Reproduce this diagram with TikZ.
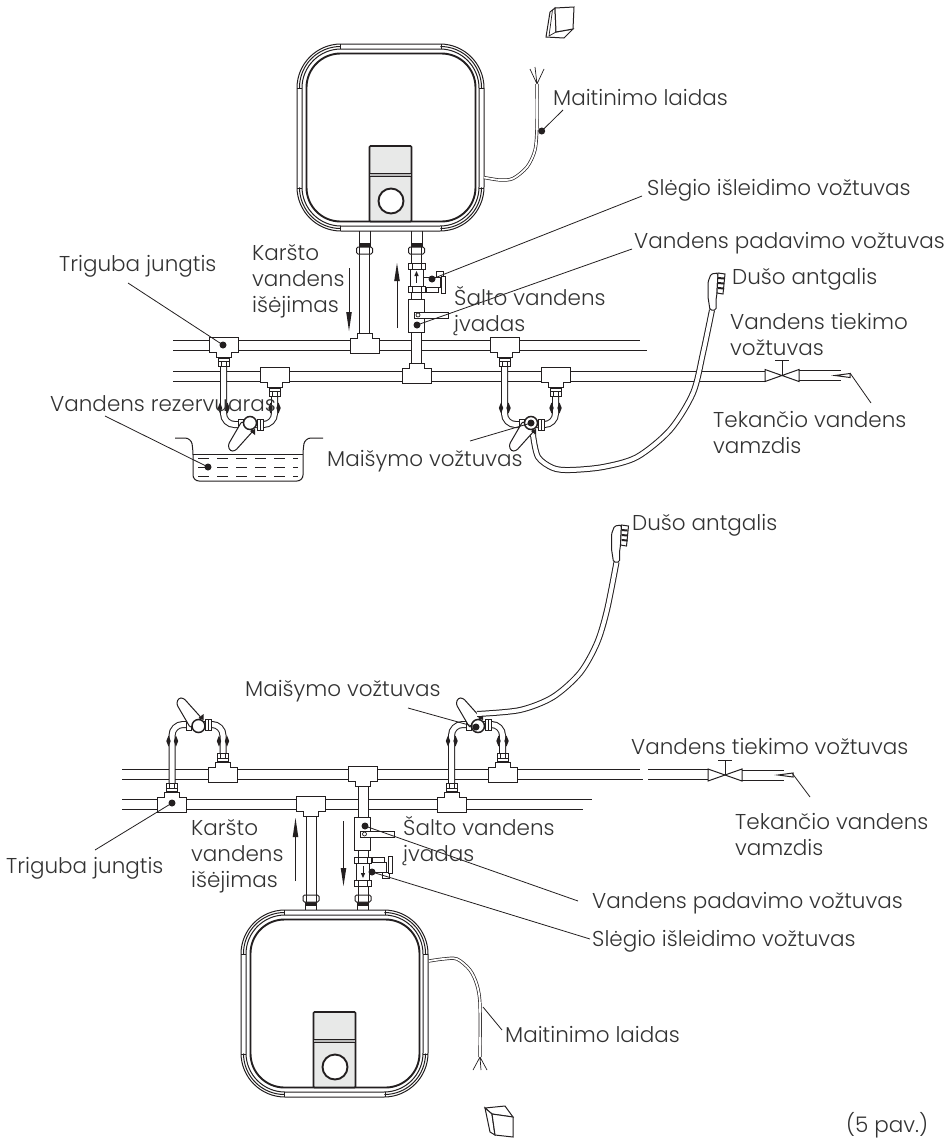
\documentclass[tikz,border=0pt]{standalone}
\usepackage{fontspec}
\setmainfont{Poppins}[UprightFont=* Light]
\definecolor{ink}{HTML}{231F20}
\definecolor{txt}{HTML}{333333}
\definecolor{panel}{HTML}{E8E9E8}
\tikzset{
  ln/.style={draw=ink,line width=1pt},
  thin ln/.style={draw=ink,line width=0.7pt},
  leader/.style={draw=ink,line width=0.8pt},
  bigpipe/.style={draw=ink,line width=1pt,double=white,double distance=9pt},
  upipe/.style={draw=ink,line width=1pt,double=white,double distance=5pt},
  hosepipe/.style={draw=ink,line width=1pt,double=white,double distance=4pt},
  cablew/.style={draw=ink,line width=0.7pt,double=white,double distance=1.8pt},
  dotn/.style={circle,fill=ink,draw=none,minimum size=7pt,inner sep=0pt},
  lab/.style={text=txt,font=\fontsize{21.5}{26}\selectfont,anchor=west,inner sep=0pt,align=left},
}
\newcommand\myTee[3]{\begin{scope}[shift={(#1,#2)},yscale=#3]
  \draw[ln,fill=white] (-14.5,0)--(14.5,0)--(14.5,15)--(7.5,15)--(7.5,20)--(-7.5,20)--(-7.5,15)--(-14.5,15)--cycle;
\end{scope}}
\newcommand\mySmallNut[2]{\begin{scope}[shift={(#1,#2)}]
  \draw[ln,fill=white] (-5.5,0) rectangle (5.5,8);
  \draw[thin ln] (-5.5,3)--(5.5,3) (-2.5,3)--(-2.5,8) (2.5,3)--(2.5,8);
\end{scope}}
\newcommand\myBlob[2]{\fill[ink] (#1-2.2,#2)--(#1,#2-5.5)--(#1+2.2,#2)--(#1,#2+5.5)--cycle;}
% mixer assembly, drawn in the frame of the first one
\newcommand\myMixer{
  \draw[upipe,rounded corners=11pt] (223.5,364)--(223.5,424.5)--(274.5,424.5)--(274.5,393);
  \myBlob{220}{408}\myBlob{227.5}{408}\myBlob{270.5}{408}\myBlob{278.5}{408}
  \myTee{223.5}{337}{1}\myTee{274.5}{367}{1}
  \mySmallNut{223.5}{358}\mySmallNut{274.5}{388}
  \draw[ln,fill=white] (238,419) rectangle (243,430);
  \draw[ln,fill=white] (257,419) rectangle (263,430);
  \draw[thin ln] (260,419)--(260,430);
  \draw[ln,fill=white,rounded corners=2.5pt] (242,421)--(228,445)--(230,451)--(235,451)--(253,431)--cycle;
  \fill[ink] (250,431)--(255,429)--(255,435)--cycle;
  \draw[line width=1.5pt,draw=ink,fill=white] (250,423) circle[radius=6.5pt];
}
% hot and cold risers
\newcommand\myRisers{
  \draw[bigpipe] (364.5,252)--(364.5,337);
  \draw[bigpipe] (416.5,252)--(416.5,366);
  \myTee{364.5}{353}{-1}\myTee{416.5}{383}{-1}
  % boiler nuts
  \foreach \nx in {364.5,416.5}{
    \fill[ink] (\nx-6,243) rectangle (\nx+6,247);
    \draw[ln,fill=white,rounded corners=1.5pt] (\nx-8,247) rectangle (\nx+8,254);
    \draw[thin ln] (\nx-5,247)--(\nx-5,254) (\nx+5,247)--(\nx+5,254);
  }
  % safety valve
  \draw[ln,fill=white] (422,277) rectangle (440,287);
  \draw[ln,fill=white] (426,287) rectangle (438,292);
  \draw[ln,fill=white] (436,271) rectangle (443,277);
  \draw[ln,fill=white] (441.5,276) rectangle (445.5,293);
  \draw[ln,fill=white] (410,269) rectangle (423,286);
  \draw[ln,fill=white] (408,263) rectangle (425,269);
  \draw[ln,fill=white] (408,286) rectangle (425,292);
  \draw[thin ln] (412,263)--(412,269) (421,263)--(421,269) (412,286)--(412,292) (421,286)--(421,292);
  \draw[line width=1pt,draw=ink] (416.5,275)--(416.5,283);
  \fill[ink] (416.5,271)--(414.3,276)--(418.7,276)--cycle;
  % stop cock
  \draw[ln,fill=white] (408,299) rectangle (424,332);
  \draw[ln,fill=white] (414,312) rectangle (448,318);
  \draw[thin ln,fill=white] (418,315) circle[radius=2pt];
  % arrows
  \draw[ink,line width=0.9pt] (349,268)--(349,316);
  \fill[ink] (349,331)--(346.2,312)--(351.8,312)--cycle;
  \draw[ink,line width=0.9pt] (397,328)--(397,276);
  \fill[ink] (397,263)--(394.2,281)--(399.8,281)--cycle;
}
\newcommand\myBoiler{
  \draw[ln,rounded corners=44pt] (297,44) rectangle (484,231);
  \draw[ln,rounded corners=39pt] (302,49) rectangle (479,226);
  \draw[draw=ink,line width=1.9pt,rounded corners=34pt] (306.5,53.5) rectangle (475.5,221.5);
  \draw[ln,rounded corners=41pt] (299.5,88)--(299.5,46.5)--(340,46.5);
  \draw[ln,rounded corners=41pt] (441,46.5)--(481.5,46.5)--(481.5,88);
  \draw[ln,rounded corners=41pt] (299.5,188)--(299.5,228.5)--(340,228.5);
  \draw[ln,rounded corners=41pt] (441,228.5)--(481.5,228.5)--(481.5,188);
  \draw[ln] (340,44)--(340,49) (441,44)--(441,49) (340,226)--(340,231) (441,226)--(441,231)
            (297,88)--(302,88) (479,88)--(484,88) (297,188)--(302,188) (479,188)--(484,188);
  \draw[line width=1.7pt,draw=ink,fill=panel,rounded corners=1pt] (369.5,146)--(411.5,146)--(411.5,221.5)--(369.5,221.5)--cycle;
  \draw[thin ln,fill=gray!55] (369.5,173)--(411.5,173)--(411.5,176)--(369.5,176)--cycle;
  \draw[line width=1.9pt,draw=ink,fill=white] (391,201) circle[radius=12.5pt];
}
\newcommand\myValve[2]{\begin{scope}[shift={(#1,#2)}]
  \draw[ln,fill=white] (-17,-6)--(0,0)--(-17,6)--cycle;
  \draw[ln,fill=white] (17,-6)--(0,0)--(17,6)--cycle;
  \draw[ln] (0,0)--(0,-15) (-7,-15)--(7,-15);
  \draw[ln] (17,-5)--(59,-5) (17,5)--(59,5);
  \draw[ln,fill=white] (53,0)--(68,-2)--(68,2)--cycle;
\end{scope}}
\newcommand\myHead[2]{\begin{scope}[shift={(#1,#2)}]
  \draw[ln,fill=white,rounded corners=1.5pt] (-3,0)--(-5,-13)--(-5,-28)--(-2,-36)--(5,-37)--(4,-17)--(3,-10)--(3,0)--cycle;
  \draw[ln,fill=white] (5,-37)--(12,-36)--(10,-16)--(4,-17)--cycle;
  \foreach \ty in {-33,-28,-23}{\fill[ink] (5,\ty)--(11,\ty+0.5)--(11,\ty+2.5)--(5,\ty+2)--cycle;}
\end{scope}}
\begin{document}
\begin{tikzpicture}[x=1pt,y=-1pt]
\useasboundingbox (0,0) rectangle (950,1138);
\fill[white] (0,0) rectangle (950,1138);
%% ---------- upper figure ----------
\draw[ln] (173,340)--(640,340) (173,350)--(647,350);
\draw[ln] (173,371)--(765,371) (173,381)--(765,381);
\myValve{782}{375.5}
\coordinate (tipA) at (850,373);
\myMixer
\begin{scope}[shift={(281,0)}]\myMixer\end{scope}
\draw[ln] (359,231)--(359,243) (370,231)--(370,243) (411,231)--(411,243) (422,231)--(422,243);
\myRisers
\myBoiler
% cable
\draw[cablew] plot[smooth] coordinates {(484,177.5)(500,180)(513,178.5)(527,167)(535,150)(537,125)(537,84)};
\draw[thin ln] (537,84)--(530,69) (537,84)--(535,67) (537,84)--(544,69);
% power box
\draw[ln,fill=white] (555,8)--(550,12)--(546,37)--(564,38)--(573,29)--(556,32)--cycle;
\draw[thin ln] (552.5,10)--(549,36) (556,32)--(549,36);
\draw[ln,fill=white] (555,8)--(574,7)--(573,29)--(556,32)--cycle;
% reservoir
\draw[ln,rounded corners=6pt] (175,438)--(191,438)--(193,449)--(193,481)--(303,481)--(303,449)--(305,438)--(323,438);
\draw[ln] (193,454)--(303,454);
\draw[ln,dash pattern=on 11pt off 8pt] (198,458.5)--(298,458.5) (198,467.5)--(298,467.5) (198,476.5)--(298,476.5);
% hose and head
\draw[hosepipe] plot[smooth] coordinates {(533,435)(538,457)(553,468)(570,470)(603,467)(637,457)(670,430)(693,393)(703,353)(712,310)};
\myHead{713}{310}
%% ---------- lower figure ----------
\draw[ln] (122,769.5)--(640,769.5) (122,779.5)--(643,779.5) (648,769.5)--(708,769.5) (648,779.5)--(708,779.5);
\draw[ln] (122,799)--(592,799) (122,809)--(583,809);
\myValve{725}{775}
\begin{scope}[shift={(-51.5,1149)},yscale=-1]\myMixer\end{scope}
\begin{scope}[shift={(228,1149)},yscale=-1]\myMixer\end{scope}
\begin{scope}[shift={(-53.5,1149)},yscale=-1]\myRisers\end{scope}
\draw[ln] (305.5,905)--(305.5,910) (316.5,905)--(316.5,910) (357.5,905)--(357.5,910) (368.5,905)--(368.5,910);
\begin{scope}[shift={(-56,866)}]\myBoiler\end{scope}
\draw[cablew] plot[smooth] coordinates {(429,961)(443,959)(457,959)(470,970)(477,985)(480,1005)(480,1057)};
\draw[thin ln] (480,1057)--(473,1070) (480,1057)--(481,1070) (480,1057)--(487,1070);
\draw[ln,fill=white] (485,1108)--(505,1106)--(513,1117)--(492,1114)--cycle;
\draw[ln,fill=white] (485,1108)--(492,1114)--(495,1135)--(490,1132)--cycle;
\draw[ln,fill=white] (492,1114)--(513,1117)--(513,1137)--(495,1135)--cycle;
\draw[hosepipe] plot[smooth] coordinates {(477,714)(520,710)(553,697)(580,673)(597,643)(607,610)(616.5,562)};
\myHead{616.5}{562}
%% ---------- dots ----------
\node[dotn] (dCableA) at (541.7,131) {};
\node[dotn] (dSafeA) at (432,279) {};
\node[dotn] (dStopA) at (417,325) {};
\node[dotn] (dTeeA) at (223,345) {};
\node[dotn] (dTankA) at (208,467) {};
\node[dotn] (dMixA) at (531,423) {};
\node[dotn] (dMixB) at (476,727) {};
\node[dotn] (dTeeB) at (172,803) {};
\node[dotn] (dStopB) at (365,826) {};
\node[dotn] (dSafeB) at (372,872) {};
\coordinate (tipB) at (792,773);
\coordinate (cableB) at (483,1007);
%% ---------- leader ends ----------
\coordinate (lCableA) at (563,110);
\coordinate (lSafeA) at (642,196);
\coordinate (lStopA) at (632,249);
\coordinate (lTeeA) at (128,283);
\coordinate (lTankA) at (105,416);
\coordinate (lMixA) at (470,441);
\coordinate (lTipA) at (871,403);
\coordinate (lMixB) at (408,708);
\coordinate (lTeeB) at (95,850);
\coordinate (lStopB) at (578,901);
\coordinate (lSafeB) at (590,939);
\coordinate (lCableB) at (502,1030);
\coordinate (lTipB) at (810,797);
\draw[leader] (dCableA.center)--(lCableA) (dSafeA.center)--(lSafeA) (dStopA.center)--(lStopA)
  (dTeeA.center)--(lTeeA) (dTankA.center)--(lTankA) (dMixA.center)--(lMixA) (tipA)--(lTipA)
  (dMixB.center)--(lMixB) (dTeeB.center)--(lTeeB) (dStopB.center)--(lStopB) (dSafeB.center)--(lSafeB)
  (cableB)--(lCableB) (tipB)--(lTipB);
%% ---------- labels ----------
\node[lab] (t1) at (553,97) {Maitinimo laidas};
\node[lab] (t2) at (647,190) {Slėgio išleidimo vožtuvas};
\node[lab] (t3) at (634,243) {Vandens padavimo vožtuvas};
\node[lab] (t4) at (252,281) {Karšto\\vandens\\išėjimas};
\node[lab] (t5) at (59,266) {Triguba jungtis};
\node[lab] (t6) at (454,311) {Šalto vandens\\įvadas};
\node[lab] (t7) at (732,279) {Dušo antgalis};
\node[lab] (t8) at (730,335) {Vandens tiekimo\\vožtuvas};
\node[lab] (t9) at (50,404) {Vandens rezervuaras};
\node[lab] (t10) at (713,432) {Tekančio vandens\\vamzdis};
\node[lab] (t11) at (327,461) {Maišymo vožtuvas};
\node[lab] (t12) at (632,525) {Dušo antgalis};
\node[lab] (t13) at (245,691) {Maišymo vožtuvas};
\node[lab] (t14) at (631,747) {Vandens tiekimo vožtuvas};
\node[lab] (t15) at (191,856) {Karšto\\vandens\\išėjimas};
\node[lab] (t16) at (403,841) {Šalto vandens\\įvadas};
\node[lab] (t17) at (6,868) {Triguba jungtis};
\node[lab] (t18) at (735,834) {Tekančio vandens\\vamzdis};
\node[lab] (t19) at (592,903) {Vandens padavimo vožtuvas};
\node[lab] (t20) at (592,941) {Slėgio išleidimo vožtuvas};
\node[lab] (t21) at (505,1034) {Maitinimo laidas};
\node[lab] (t22) at (846,1125) {(5 pav.)};
\end{tikzpicture}
\end{document}
